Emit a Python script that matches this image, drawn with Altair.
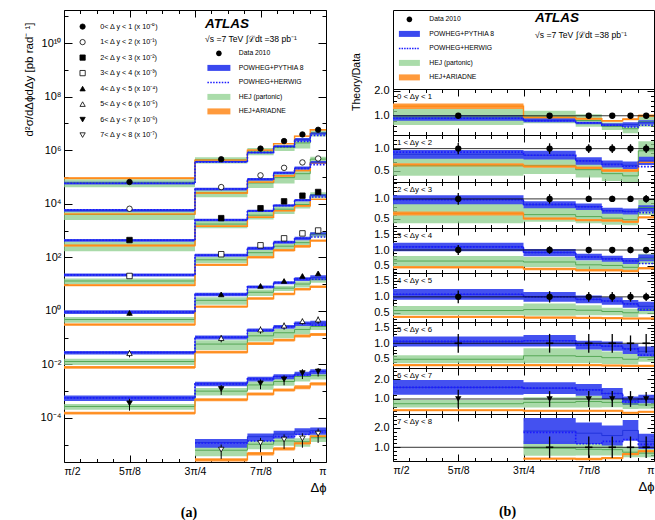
import math
import altair as alt
import pandas as pd

PI = math.pi
FONT = "Liberation Sans"

# ---------------- data ----------------
EDGES_PI = [0.5, 0.75, 0.85, 0.90, 0.94, 0.97, 1.0]          # bin edges in units of pi
X_TICKS_PI = [0.5, 0.625, 0.75, 0.875, 1.0]
X_TICK_LABELS = ["π/2", "5π/8", "3π/4", "7π/8", "π"]

SLICE_LABELS = ["0 < Δy < 1", "1 < Δy < 2", "2 < Δy < 3", "3 < Δy < 4",
                "4 < Δy < 5", "5 < Δy < 6", "6 < Δy < 7", "7 < Δy < 8"]
SLICE_LEGEND = ["0< Δ y < 1 (x 10⁻⁰)", "1< Δ y < 2 (x 10⁻¹)", "2< Δ y < 3 (x 10⁻²)",
                "3< Δ y < 4 (x 10⁻³)", "4< Δ y < 5 (x 10⁻⁴)", "5< Δ y < 6 (x 10⁻⁵)",
                "6< Δ y < 7 (x 10⁻⁶)", "7< Δ y < 8 (x 10⁻⁷)"]
SLICE_SCALE_EXP = [0, -1, -2, -3, -4, -5, -6, -7]
SLICE_SHAPES = ["circle", "circle", "square", "square",
                "triangle-up", "triangle-up", "triangle-down", "triangle-down"]
SLICE_FILLS = ["black", "white", "black", "white", "black", "white", "black", "white"]

MODELS = ["Data 2010", "POWHEG+PYTHIA 8", "POWHEG+HERWIG", "HEJ (partonic)", "HEJ+ARIADNE"]

# measured cross sections (pb/rad, before the 10^-k offsets)
DATA_XS = [
    [6.5e4, 4.6e5, 1.15e6, 2.2e6, 3.9e6, 5.8e6],
    [6.5e4, 4.2e5, 1.15e6, 2.2e6, 3.5e6, 4.9e6],
    [4.4e4, 2.9e5, 6.8e5, 1.23e6, 2.0e6, 2.75e6],
    [2.0e4, 1.3e5, 2.8e5, 5.1e5, 7.8e5, 1.0e6],
    [8.3e3, 4.1e4, 8.5e4, 1.3e5, 2.0e5, 2.5e5],
    [2.6e3, 9.5e3, 2.0e4, 2.8e4, 4.1e4, 4.7e4],
    [350, 1.2e3, 1.95e3, 2.75e3, 4.7e3, 5.4e3],
    [None, 65, 115, 155, 170, 257],
]
DATA_ERR = [
    [0.04, 0.04, 0.04, 0.04, 0.04, 0.04],
    [0.13, 0.12, 0.10, 0.10, 0.10, 0.10],
    [0.15, 0.12, 0.08, 0.08, 0.08, 0.10],
    [0.16, 0.12, 0.10, 0.10, 0.10, 0.10],
    [0.20, 0.18, 0.15, 0.15, 0.15, 0.13],
    [0.30, 0.30, 0.30, 0.30, 0.25, 0.30],
    [0.47, 0.40, 0.40, 0.40, 0.40, 0.35],
    [None, 0.55, 0.55, 0.55, 0.55, 0.55],
]

# theory / data ratios: centre values and half widths of the bands
PY_C = [
    [0.91, 0.82, 0.71, 0.63, 0.65, 0.74],
    [0.87, 0.85, 0.72, 0.65, 0.62, 0.72],
    [0.98, 0.85, 0.80, 0.70, 0.68, 0.76],
    [1.10, 0.92, 0.78, 0.72, 0.65, 0.75],
    [1.08, 1.00, 0.92, 0.87, 0.78, 0.70],
    [1.06, 1.08, 0.94, 0.91, 0.82, 0.74],
    [1.59, 1.55, 1.46, 1.28, 0.92, 1.00],
    [None, 1.83, 1.72, 1.60, 1.86, 1.30],
]
PY_W = [
    [0.11, 0.08, 0.05, 0.07, 0.09, 0.085],
    [0.10, 0.10, 0.085, 0.08, 0.085, 0.095],
    [0.115, 0.09, 0.08, 0.075, 0.075, 0.08],
    [0.135, 0.115, 0.105, 0.095, 0.095, 0.105],
    [0.17, 0.15, 0.12, 0.115, 0.125, 0.145],
    [0.16, 0.185, 0.14, 0.15, 0.16, 0.16],
    [0.37, 0.30, 0.30, 0.28, 0.21, 0.22],
    [None, 0.66, 0.55, 0.51, 0.53, 0.39],
]
HW_C = [
    [0.90, 0.80, 0.72, 0.62, 0.55, 0.62],
    [0.92, 0.85, 0.72, 0.64, 0.60, 0.59],
    [0.98, 0.86, 0.80, 0.70, 0.68, 0.65],
    [1.10, 0.92, 0.78, 0.72, 0.66, 0.57],
    [1.08, 1.00, 0.92, 0.87, 0.78, 0.60],
    [1.06, 1.08, 0.94, 0.91, 0.82, 0.62],
    [1.59, 1.55, 1.46, 1.28, 0.85, 1.00],
    [None, 1.76, 1.18, 1.30, 1.40, 1.15],
]
HEJ_C = [
    [0.95, 0.95, 0.81, 0.58, 0.48, 0.76],
    [0.61, 0.61, 0.52, 0.43, 0.38, 0.95],
    [0.63, 0.60, 0.55, 0.51, 0.47, 0.78],
    [0.65, 0.62, 0.53, 0.51, 0.45, 0.72],
    [0.57, 0.60, 0.58, 0.54, 0.50, 0.60],
    [0.49, 0.60, 0.58, 0.54, 0.49, 0.55],
    [0.76, 0.83, 0.87, 0.83, 0.75, 0.70],
    [None, 0.95, 0.90, 0.88, 0.75, 0.70],
]
HEJ_W = [
    [0.32, 0.25, 0.25, 0.15, 0.18, 0.20],
    [0.23, 0.19, 0.18, 0.17, 0.16, 0.22],
    [0.25, 0.18, 0.17, 0.17, 0.14, 0.19],
    [0.16, 0.16, 0.14, 0.13, 0.11, 0.16],
    [0.14, 0.19, 0.16, 0.12, 0.13, 0.15],
    [0.13, 0.24, 0.22, 0.20, 0.17, 0.14],
    [0.19, 0.26, 0.30, 0.25, 0.26, 0.20],
    [None, 0.38, 0.32, 0.30, 0.26, 0.21],
]
AR_C = [
    [1.38, 0.93, 0.88, 0.80, 0.86, 1.00],
    [0.63, 0.60, 0.56, 0.50, 0.50, 0.69],
    [0.63, 0.50, 0.46, 0.45, 0.42, 0.53],
    [0.45, 0.40, 0.36, 0.36, 0.33, 0.42],
    [0.37, 0.35, 0.34, 0.33, 0.32, 0.32],
    [0.30, 0.30, 0.30, 0.29, 0.28, 0.28],
    [0.43, 0.40, 0.40, 0.40, 0.30, 0.35],
    [None, 0.42, 0.40, 0.45, 0.66, 0.80],
]
AR_W = [
    [0.11, 0.04, 0.04, 0.035, 0.04, 0.05],
    [0.035, 0.035, 0.035, 0.035, 0.035, 0.035],
    [0.05, 0.03, 0.03, 0.03, 0.03, 0.03],
    [0.04, 0.04, 0.04, 0.04, 0.04, 0.04],
    [0.035, 0.035, 0.035, 0.035, 0.035, 0.035],
    [0.035, 0.035, 0.035, 0.035, 0.035, 0.035],
    [0.05, 0.05, 0.05, 0.05, 0.05, 0.05],
    [None, 0.06, 0.06, 0.06, 0.06, 0.06],
]

RATIO_DOMAINS = [[0.23, 2.07], [0.24, 1.31], [0.26, 1.43], [0.27, 1.70],
                 [0.21, 1.75], [0.21, 1.68], [0.24, 2.57], [0.30, 2.70]]
RATIO_TICKS = [[1.0, 2.0], [0.5, 1.0], [0.5, 1.0], [0.5, 1.0, 1.5],
               [0.5, 1.0, 1.5], [0.5, 1.0, 1.5], [1.0, 2.0], [1.0, 2.0]]
LOG_DOMAIN_A = [10 ** -5.65, 10 ** 11.24]
LOG_LABEL_EXPS = [-4, -2, 0, 2, 4, 6, 8, 10]

# ---------------- layout / style ----------------
WA, HA = 262, 452
WB = 261
TOP_H = 79
SUB_H = [46, 47, 46, 45, 49, 46, 46, 47]

C_BLUE = "#3a48ef"
C_BLUE_LINE = "#2233dd"
C_HW = "#1a1aff"
C_GREEN = "#8cce8c"
C_GREEN_LINE = "#56a856"
C_ORANGE = "#ff9a3c"
C_ORANGE_LINE = "#ff8c1a"

SUP = str.maketrans("-0123456789", "⁻⁰¹²³⁴⁵⁶⁷⁸⁹")

# ---------------- tables ----------------
rows = []
for key, C, W in [("py", PY_C, PY_W), ("hw", HW_C, None), ("hej", HEJ_C, HEJ_W), ("ar", AR_C, AR_W)]:
    for k in range(8):
        bins = [i for i in range(6) if C[k][i] is not None]
        seq = [(EDGES_PI[i], i) for i in bins] + [(EDGES_PI[bins[-1] + 1], bins[-1])]
        for xpi, i in seq:
            c = C[k][i]
            w = W[k][i] if W is not None else 0.0
            norm = DATA_XS[k][i] * 10 ** SLICE_SCALE_EXP[k]
            rows.append({"model": key, "slice": k, "x": xpi * PI,
                         "rc": c, "rlo": c - w, "rhi": c + w,
                         "ac": c * norm, "alo": (c - w) * norm, "ahi": (c + w) * norm})
steps = pd.DataFrame(rows)

prow = []
for k in range(8):
    for i in range(6):
        if DATA_XS[k][i] is None:
            continue
        v = DATA_XS[k][i] * 10 ** SLICE_SCALE_EXP[k]
        e = DATA_ERR[k][i]
        prow.append({"slice": k, "slab": SLICE_LEGEND[k],
                     "x": (EDGES_PI[i] + EDGES_PI[i + 1]) / 2 * PI,
                     "v": v, "vlo": v * (1 - e), "vhi": v * (1 + e),
                     "r": 1.0, "rlo": 1 - e, "rhi": 1 + e})
points = pd.DataFrame(prow)

# ---------------- helpers ----------------
def chain(tests_labels, default):
    expr = f"'{default}'"
    for t, l in reversed(tests_labels):
        expr = f"{t} ? '{l}' : " + expr
    return expr

x_label_expr = chain([(f"abs(datum.value - {v * PI}) < 0.01", l)
                      for v, l in zip(X_TICKS_PI[:-1], X_TICK_LABELS[:-1])], X_TICK_LABELS[-1])
y_label_expr_a = chain([(f"abs(log(datum.value)/LN10 - ({e})) < 0.01", "10" + str(e).translate(SUP))
                        for e in LOG_LABEL_EXPS[:-1]], "10" + str(LOG_LABEL_EXPS[-1]).translate(SUP))

X_MINOR = [(0.5 + j / 32) * PI for j in range(17)]
X_TICK_SIZE = {"condition": {"test": "abs(datum.value*8/PI - round(datum.value*8/PI)) < 0.01", "value": 7},
               "value": 3.5}


def x_axes(H, labels, title):
    lab = alt.Axis(orient="bottom", values=[v * PI for v in X_TICKS_PI], labelExpr=x_label_expr,
                   ticks=False, tickSize=0, domain=False, grid=False, labels=labels,
                   labelPadding=4, labelFontSize=10.5, labelFont=FONT, labelColor="black",
                   title=title, titleAnchor="end", titleFontSize=13, titleFontWeight="normal",
                   titlePadding=5, titleFont=FONT, titleColor="black")
    bot = alt.Axis(orient="top", offset=-H, values=X_MINOR, labels=False, domain=False, grid=False,
                   tickSize=X_TICK_SIZE, tickColor="black", tickWidth=1, title=None)
    top = alt.Axis(orient="bottom", offset=-H, values=X_MINOR, labels=False, domain=False, grid=False,
                   tickSize=X_TICK_SIZE, tickColor="black", tickWidth=1, title=None)
    return lab, bot, top


def y_in_axes(W, values, size):
    left = alt.Axis(orient="right", offset=-W, values=values, labels=False, domain=False, grid=False,
                    tickSize=size, tickColor="black", tickWidth=1, title=None)
    right = alt.Axis(orient="left", offset=-W, values=values, labels=False, domain=False, grid=False,
                     tickSize=size, tickColor="black", tickWidth=1, title=None)
    return left, right


def text(txt, x, y, size, weight="normal", style="normal", angle=0, align="left"):
    return alt.Chart(pd.DataFrame({"t": [txt]})).mark_text(
        font=FONT, fontSize=size, fontWeight=weight, fontStyle=style, angle=angle,
        align=align, baseline="middle", color="black").encode(
        text="t:N", x=alt.value(x), y=alt.value(y))


def dotted_path(half_w, n, dot):
    parts = []
    step = 2 * half_w / n
    for j in range(n):
        x0 = -half_w + j * step
        parts.append(f"M{x0:.2f},{-dot/2:.2f}H{x0 + dot:.2f}V{dot/2:.2f}H{x0:.2f}Z")
    return "".join(parts)


def model_legend_layer(hw_units, legend_x, legend_y, label_offset, row_pad):
    r = 0.93
    circle = f"M{r},0A{r},{r},0,1,1,{-r},0A{r},{r},0,1,1,{r},0Z"
    rect = f"M{-hw_units},-1H{hw_units}V1H{-hw_units}Z"
    dots = dotted_path(hw_units, 8, 0.5)
    leg = alt.Legend(orient="none", legendX=legend_x, legendY=legend_y, title=None,
                     labelFont=FONT, labelFontSize=6.8, labelColor="black", symbolSize=36,
                     symbolStrokeWidth=0, rowPadding=row_pad, labelOffset=label_offset,
                     padding=0, direction="vertical", symbolOpacity=1)
    df = pd.DataFrame({"model": MODELS})
    return alt.Chart(df).mark_point(filled=True).encode(
        shape=alt.Shape("model:N", scale=alt.Scale(domain=MODELS, range=[circle, rect, dots, rect, rect]),
                        legend=leg),
        color=alt.Color("model:N", scale=alt.Scale(domain=MODELS,
                                                   range=["black", C_BLUE, C_HW, "#aadcaa", C_ORANGE]),
                        legend=leg),
        opacity=alt.value(0))


def theory_layers(df, xs, ys, pre, xl, xb, xt, yl, yli, yri):
    def band(key, col, op, xa, ya):
        return alt.Chart(df[df.model == key]).mark_area(
            interpolate="step-after", color=col, opacity=op, clip=True).encode(
            x=alt.X("x:Q", scale=xs, axis=xa),
            y=alt.Y(f"{pre}lo:Q", scale=ys, axis=ya),
            y2=f"{pre}hi:Q", detail="slice:N")

    def line(key, col, w, dash=None):
        kw = {"strokeDash": dash} if dash else {}
        return alt.Chart(df[df.model == key]).mark_line(
            interpolate="step-after", color=col, strokeWidth=w, clip=True, **kw).encode(
            x=alt.X("x:Q", scale=xs, axis=None),
            y=alt.Y(f"{pre}c:Q", scale=ys, axis=None), detail="slice:N")

    return [
        band("hej", C_GREEN, 0.75, xl, yl),
        band("ar", C_ORANGE, 1.0, xb, yli),
        band("py", C_BLUE, 0.95, xt, yri),
        line("hej", C_GREEN_LINE, 1.0),
        line("ar", C_ORANGE_LINE, 1.4),
        line("py", C_BLUE_LINE, 1.0),
        line("hw", C_HW, 1.6, [1.6, 1.6]),
    ]


# ---------------- panel (a) ----------------
xs_a = alt.Scale(domain=[PI / 2, PI], nice=False, zero=False)
ys_a = alt.Scale(type="log", domain=LOG_DOMAIN_A, nice=False)
XL, XB, XT = x_axes(HA, True, "Δϕ")
YL_A = alt.Axis(orient="left", values=[10.0 ** e for e in LOG_LABEL_EXPS], labelExpr=y_label_expr_a,
                ticks=False, tickSize=0, domain=False, grid=False, labelPadding=3, labelFontSize=11,
                labelFont=FONT, labelColor="black",
                title="d²σ/dΔϕdΔy [pb rad⁻ ¹]", titleFont=FONT, titleFontSize=11.5,
                titleFontWeight="normal", titleColor="black", titleY=69, titlePadding=6)
Y_TSIZE_A = {"condition": {"test": "abs(log(datum.value)/LN10/2 - round(log(datum.value)/LN10/2)) < 0.01",
                           "value": 8}, "value": 4}
YLI_A, YRI_A = y_in_axes(WA, [10.0 ** e for e in range(-5, 12)], Y_TSIZE_A)

slice_leg = alt.Legend(orient="none", legendX=15, legendY=13, title=None, labelFont=FONT,
                       labelFontSize=7.2, labelColor="black", symbolSize=28,
                       symbolStrokeWidth=0.8, rowPadding=6.5, labelOffset=14, padding=0,
                       direction="vertical")

a_layers = theory_layers(steps, xs_a, ys_a, "a", XL, XB, XT, YL_A, YLI_A, YRI_A)
a_err = alt.Chart(points).mark_rule(color="black", strokeWidth=1).encode(
    x=alt.X("x:Q", scale=xs_a, axis=None), y=alt.Y("vlo:Q", scale=ys_a, axis=None), y2="vhi:Q")
a_pts = alt.Chart(points).mark_point(filled=True, strokeWidth=0.8, size=30, opacity=1).encode(
    x=alt.X("x:Q", scale=xs_a, axis=None),
    y=alt.Y("v:Q", scale=ys_a, axis=None),
    shape=alt.Shape("slab:N", scale=alt.Scale(domain=SLICE_LEGEND, range=SLICE_SHAPES), legend=slice_leg),
    fill=alt.Fill("slab:N", scale=alt.Scale(domain=SLICE_LEGEND, range=SLICE_FILLS), legend=slice_leg),
    stroke=alt.Stroke("slab:N", scale=alt.Scale(domain=SLICE_LEGEND, range=["black"] * 8), legend=slice_leg))

panel_a = alt.layer(
    *a_layers, a_err, a_pts,
    model_legend_layer(3.83, 151.5, 40, 16.5, 6.5),
    text("ATLAS", 141, 14, 13.5, weight="bold", style="italic"),
    text("√s =7 TeV  ∫ℒdt =38 pb⁻¹", 141, 29, 8.6),
).resolve_scale(shape="independent", color="independent", fill="independent",
                stroke="independent").resolve_axis(
    x="independent", y="independent").properties(
    width=WA, height=HA,
    title=alt.TitleParams("(a)", orient="bottom", anchor="middle", frame="group", dx=-6, offset=11,
                          font="Liberation Serif", fontSize=14, fontWeight="bold", color="black"))

# ---------------- panel (b) ----------------
top_b = alt.layer(
    model_legend_layer(3.5, 13, 6, 16.5, 6.5),
    text("ATLAS", 142, 8, 13.5, weight="bold", style="italic"),
    text("√s =7 TeV  ∫ℒdt =38 pb⁻¹", 142, 25, 8.6),
    text("Theory/Data", -36, 72, 10.5, angle=270, align="center"),
).properties(width=WB, height=TOP_H)

subs = []
for k in range(8):
    H = SUB_H[k]
    last = k == 7
    sub = steps[steps.slice == k]
    pts = points[points.slice == k]
    xs = alt.Scale(domain=[PI / 2, PI], nice=False, zero=False)
    ys = alt.Scale(domain=RATIO_DOMAINS[k], nice=False, zero=False)
    xl, xb, xt = x_axes(H, True, "Δϕ")
    if not last:
        xl = None
    majors = RATIO_TICKS[k]
    mstep = 0.1 if majors[1] - majors[0] < 0.75 else 0.2
    lo, hi = RATIO_DOMAINS[k]
    tvals = [round(j * mstep, 2) for j in range(int(lo / mstep) + 1, int(hi / mstep) + 1)]
    mj = ",".join(str(int(round(m * 10))) for m in majors)
    tsize = {"condition": {"test": f"indexof([{mj}], round(datum.value*10)) >= 0", "value": 7}, "value": 3.5}
    yli, yri = y_in_axes(WB, tvals, tsize)
    yl = alt.Axis(orient="left", values=majors, format=".1f", ticks=False, tickSize=0, domain=False,
                  grid=False, labelPadding=4, labelFontSize=11, labelFont=FONT, labelColor="black", title=None)
    layers = theory_layers(sub, xs, ys, "r", xl, xb, xt, yl, yli, yri)
    one = alt.Chart(pd.DataFrame({"one": [1.0]})).mark_rule(color="black", strokeWidth=0.8).encode(
        y=alt.Y("one:Q", scale=ys, axis=None))
    err = alt.Chart(pts).mark_rule(color="black", strokeWidth=1.3, clip=True).encode(
        x=alt.X("x:Q", scale=xs, axis=None), y=alt.Y("rlo:Q", scale=ys, axis=None), y2="rhi:Q")
    if k in (5, 7):
        dots = alt.Chart(pts).mark_point(filled=False, color="black", size=55, shape="stroke",
                                         opacity=1, strokeWidth=1.6)
    else:
        dots = alt.Chart(pts).mark_point(filled=True, color="black", size=40,
                                         shape="triangle-down" if k == 6 else "circle", opacity=1)
    dots = dots.encode(x=alt.X("x:Q", scale=xs, axis=None), y=alt.Y("r:Q", scale=ys, axis=None))
    lab = text(SLICE_LABELS[k], 4, 8, 7.8)
    ch = alt.layer(*layers, one, err, dots, lab).resolve_axis(x="independent", y="independent").properties(
        width=WB, height=H)
    if last:
        ch = ch.properties(title=alt.TitleParams("(b)", orient="bottom", anchor="middle", frame="group",
                                                 dx=-16, offset=11, font="Liberation Serif", fontSize=14,
                                                 fontWeight="bold", color="black"))
    subs.append(ch)

panel_b = alt.vconcat(top_b, *subs, spacing=0, bounds="flush")

chart = alt.hconcat(panel_a, panel_b, spacing=24).resolve_scale(
    color="independent", shape="independent", fill="independent", stroke="independent").properties(
    padding={"left": 22, "top": 9, "right": 0, "bottom": 0}, background="white"
).configure_view(stroke="black", strokeWidth=1).configure_axis(
    labelFont=FONT, titleFont=FONT)

chart.save("out.html", embed_options={"renderer": "svg", "actions": False})
